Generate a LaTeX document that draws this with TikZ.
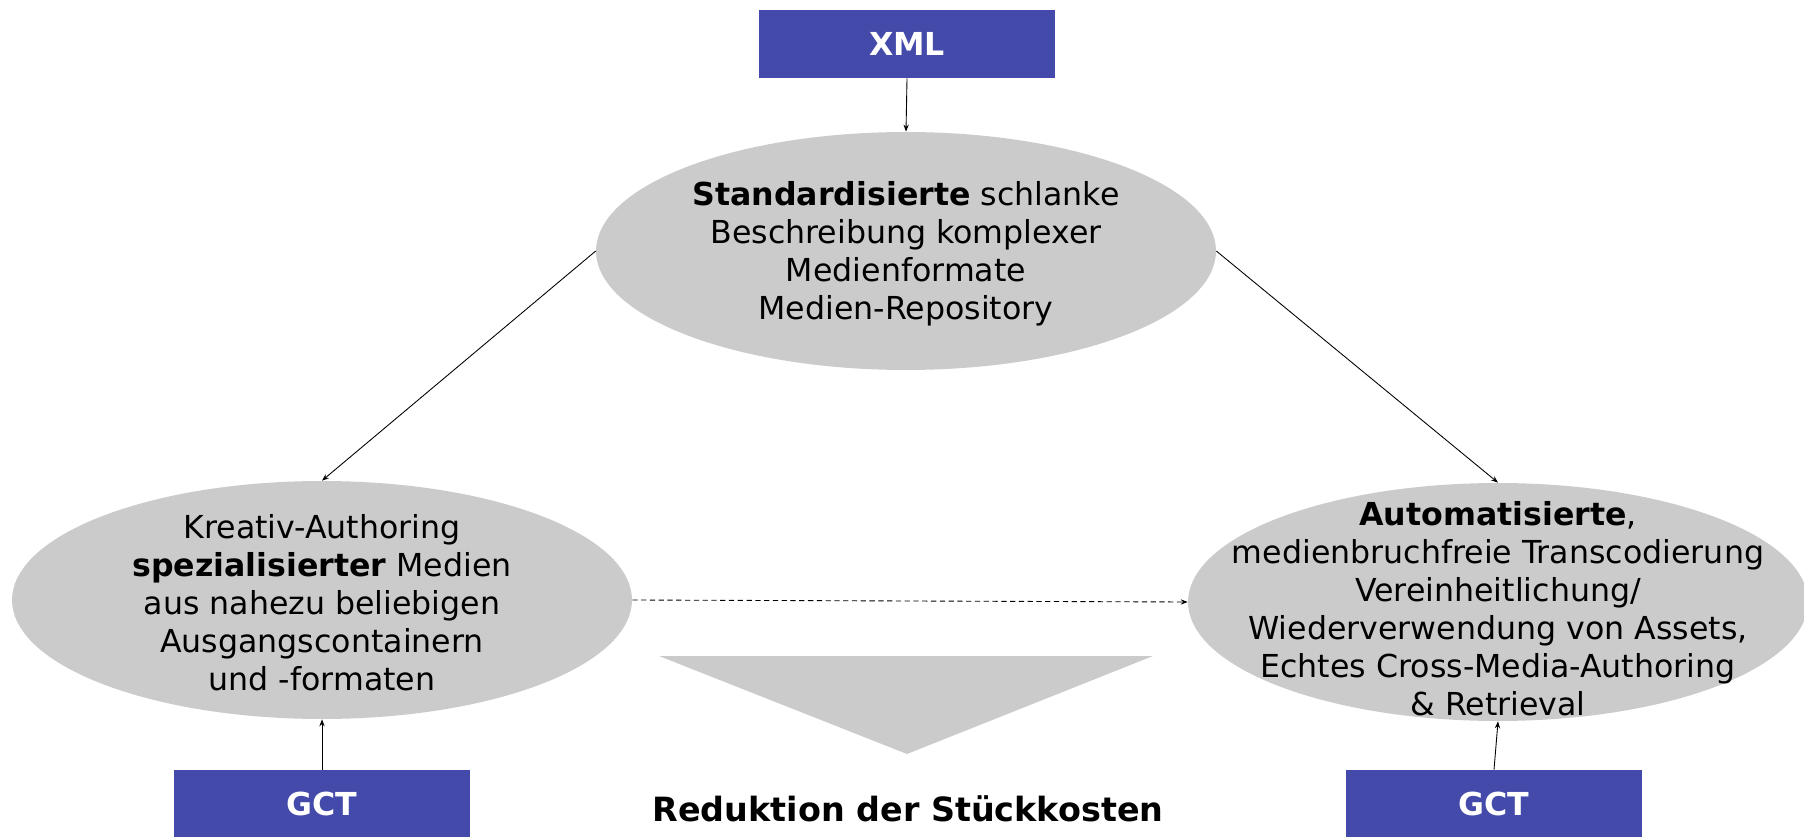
\documentclass[tikz,border=0pt]{standalone}
\usepackage{fontspec}
\setmainfont{DejaVu Sans}
\usetikzlibrary{shapes.geometric, arrows.meta, positioning}
\definecolor{gctblue}{RGB}{68,74,170}
\definecolor{blobgray}{RGB}{203,203,203}

\begin{document}
\begin{tikzpicture}[x=0.02cm, y=-0.02cm,
  box/.style={rectangle, fill=gctblue, text=white, minimum width=5.92cm,
              minimum height=1.36cm, font=\fontsize{18}{21.6}\selectfont\bfseries},
  blob/.style={ellipse, fill=blobgray, minimum width=12.4cm,
               minimum height=4.76cm, inner sep=0pt},
  txt/.style={align=center, font=\fontsize{18}{21.6}\selectfont},
  link/.style={line width=0.5pt, -{Stealth[length=4pt,width=3pt]}}
]
  \useasboundingbox (0,0) rectangle (1804,837);

  % boxes
  \node[box] (xml) at (907,44) {XML};
  \node[box] (gctl) at (322,804) {GCT};
  \node[box] (gctr) at (1494,804) {GCT};

  % ellipses
  \node[blob] (std) at (906,251) {};
  \node[blob] (krea) at (322,600) {};
  \node[blob] (auto) at (1498,602) {};
  \node[txt] (stdtxt) at (906,254) {\textbf{Standardisierte} schlanke\\
    Beschreibung komplexer\\ Medienformate\\ Medien-Repository};
  \node[txt] (kreatxt) at (322,603) {Kreativ-Authoring\\
    \textbf{spezialisierter} Medien\\ aus nahezu beliebigen\\
    Ausgangscontainern\\ und -formaten};
  \node[txt] (autotxt) at (1498,609) {\textbf{Automatisierte},\\
    medienbruchfreie Transcodierung\\ Vereinheitlichung/\\
    Wiederverwendung von Assets,\\ Echtes Cross-Media-Authoring\\ \& Retrieval};

  % cost reduction
  \fill[blobgray] (659,656) -- (1153,656) -- (907,754) -- cycle;
  \node[font=\fontsize{19}{22}\selectfont\bfseries] (red) at (908,809)
    {Reduktion der Stückkosten};

  \draw[link] (xml.south) -- (std.north);
  \draw[link] (std.west) -- (krea.north);
  \draw[link] (std.east) -- (auto.north);
  \draw[link] (gctl.north) -- (krea.south);
  \draw[link] (gctr.north) -- (auto.south);
  \draw[link, dash pattern=on 3pt off 2pt] (krea.east) -- (auto.west);
\end{tikzpicture}
\end{document}
